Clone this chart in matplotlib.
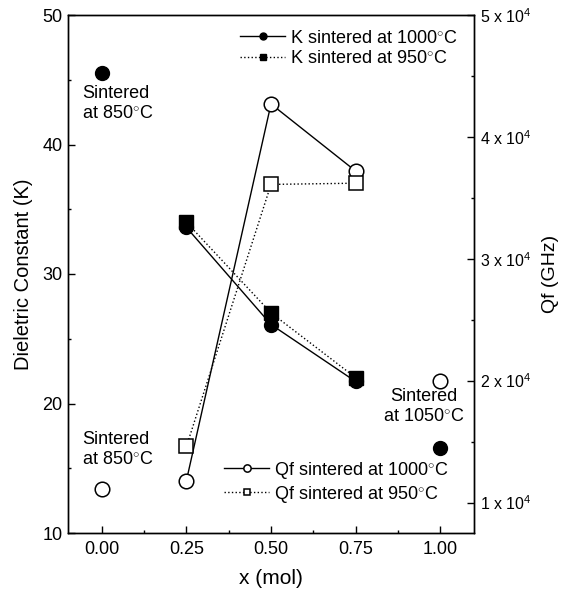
import matplotlib
matplotlib.use("Agg")
import matplotlib.pyplot as plt
from matplotlib.ticker import MultipleLocator, FixedLocator, FuncFormatter

plt.rcParams['font.family'] = ['Liberation Sans', 'DejaVu Sans']
plt.rcParams['mathtext.fontset'] = 'custom'
plt.rcParams['mathtext.rm'] = 'Liberation Sans'
plt.rcParams['mathtext.it'] = 'Liberation Sans:italic'

# ---- data ----
x_mid = [0.25, 0.50, 0.75]
k_1000 = [33.6, 26.1, 21.7]
k_950 = [34.0, 27.0, 22.0]
qf_1000 = [11800, 42700, 37200]
qf_950 = [14600, 36100, 36200]
x_ends = [0.0, 1.0]
k_ends = [45.5, 16.6]      # 850 C and 1050 C
qf_ends = [11100, 20000]   # 850 C and 1050 C
x_ticks = [0.00, 0.25, 0.50, 0.75, 1.00]
k_ticks = [10, 20, 30, 40, 50]
qf_ticks = [10000, 20000, 30000, 40000, 50000]

fig = plt.figure(figsize=(5.69, 6.02), dpi=100)
ax = fig.add_axes([68 / 569, 1 - 533 / 602, 406 / 569, 518 / 602])
ax2 = ax.twinx()

lw = 1.0
deg = r'$^{\circ}$C'
fs = 13

# K series
l1, = ax.plot(x_mid, k_1000, '-', color='black', lw=lw, marker='o', ms=10,
              mfc='black', mec='black', label='K sintered at 1000' + deg)
l2, = ax.plot(x_mid, k_950, ':', color='black', lw=lw, marker='s', ms=10,
              mfc='black', mec='black', label='K sintered at 950' + deg)
ax.plot(x_ends, k_ends, 'o', color='black', ms=10, mfc='black', mec='black')

# Qf series
l3, = ax2.plot(x_mid, qf_1000, '-', color='black', lw=lw, marker='o', ms=10.5,
               mfc='white', mec='black', mew=1.1, label='Qf sintered at 1000' + deg)
l4, = ax2.plot(x_mid, qf_950, ':', color='black', lw=lw, marker='s', ms=10,
               mfc='white', mec='black', mew=1.1, label='Qf sintered at 950' + deg)
ax2.plot(x_ends, qf_ends, 'o', color='black', ms=10.5, mfc='white', mec='black', mew=1.1)

ax.set_xlim(-0.1, 1.1)
ax.set_ylim(10, 50)
ax2.set_ylim(7500, 50000)

ax.xaxis.set_major_locator(FixedLocator(x_ticks))
ax.xaxis.set_minor_locator(MultipleLocator(0.125))
ax.xaxis.set_major_formatter(FuncFormatter(lambda v, p: f"{v:.2f}"))
ax.yaxis.set_major_locator(FixedLocator(k_ticks))
ax.yaxis.set_minor_locator(MultipleLocator(5))
ax2.yaxis.set_major_locator(FixedLocator(qf_ticks))
ax2.yaxis.set_minor_locator(MultipleLocator(5000))
ax2.yaxis.set_major_formatter(FuncFormatter(lambda v, p: r"%d x 10$^4$" % round(v / 10000)))

ax.tick_params(axis='both', which='major', direction='in', length=5, width=1,
               labelsize=fs, top=False, right=False)
ax.tick_params(axis='both', which='minor', direction='in', length=2.5, width=1,
               top=False, right=False)
ax.tick_params(axis='x', pad=6)
ax.tick_params(axis='y', pad=4)
ax2.tick_params(axis='y', which='major', direction='in', length=5, width=1, labelsize=11.5, pad=4)
ax2.tick_params(axis='y', which='minor', direction='in', length=2.5, width=1)

for a in (ax, ax2):
    for s in a.spines.values():
        s.set_linewidth(1.0)

ax.set_xlabel('x (mol)', fontsize=15, labelpad=8)
ax.set_ylabel('Dieletric Constant (K)', fontsize=14.5, labelpad=7)
ax2.set_ylabel('Qf (GHz)', fontsize=14, labelpad=8)

# legends
leg1 = ax.legend(handles=[l1, l2], loc='upper left', bbox_to_anchor=(0.424, 0.972),
                 frameon=False, fontsize=fs, handlelength=2.5, handletextpad=0.25,
                 markerscale=0.5, labelspacing=0.2, borderpad=0, borderaxespad=0)
leg2 = ax2.legend(handles=[l3, l4], loc='lower left', bbox_to_anchor=(0.385, 0.055),
                  frameon=False, fontsize=fs, handlelength=2.5, handletextpad=0.25,
                  markerscale=0.5, labelspacing=0.15, borderpad=0, borderaxespad=0)

# annotations
ax.text(-0.0586, 44.56, 'Sintered\nat 850' + deg, fontsize=fs, ha='left', va='top', linespacing=1.2)
ax.text(-0.0586, 17.84, 'Sintered\nat 850' + deg, fontsize=fs, ha='left', va='top', linespacing=1.2)
ax.text(0.952, 21.16, 'Sintered\nat 1050' + deg, fontsize=fs, ha='center', va='top',
        linespacing=1.2, multialignment='center')

fig.savefig('out.png', dpi=100)
